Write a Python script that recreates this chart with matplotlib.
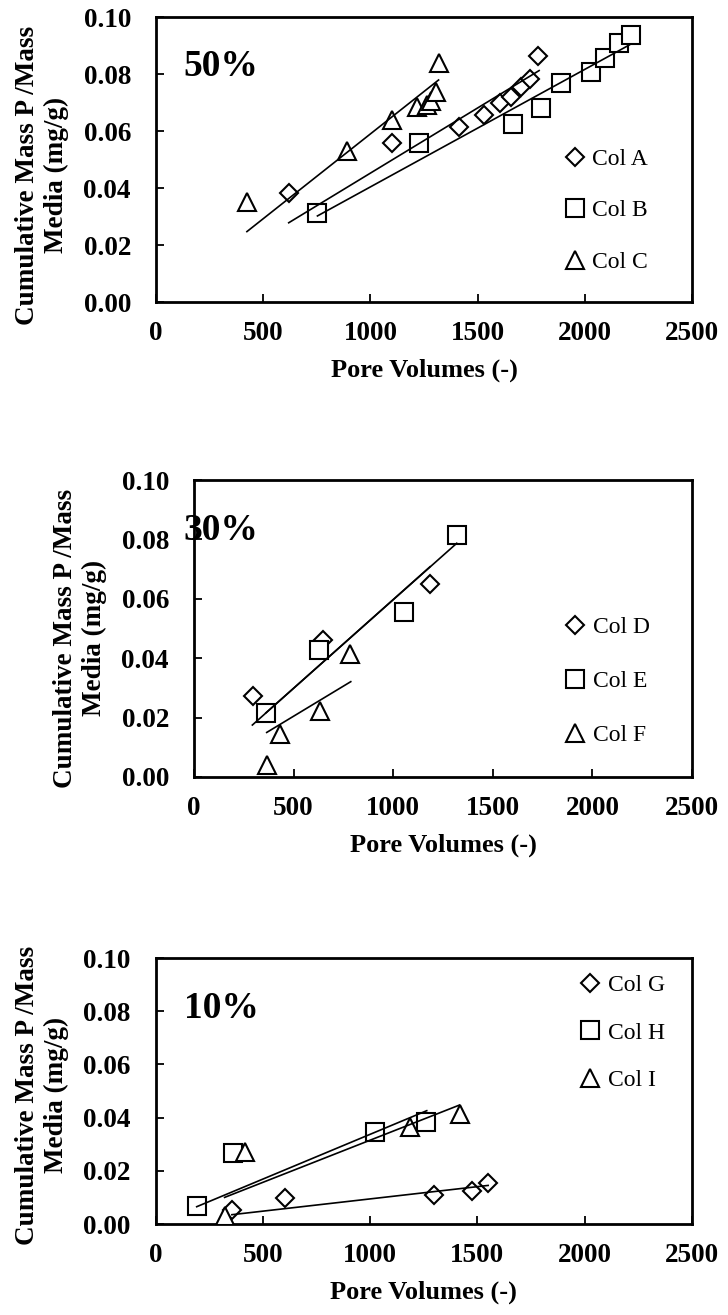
import numpy as np
import matplotlib.pyplot as plt
from matplotlib.ticker import FormatStrFormatter

plt.rcParams['font.family'] = ['Liberation Serif', 'DejaVu Serif']
plt.rcParams['font.weight'] = 'bold'

# ---- 50% columns ----
a_x = [619, 1100, 1414, 1529, 1603, 1658, 1701, 1744, 1782]
a_y = [0.0384, 0.0559, 0.0615, 0.0656, 0.0697, 0.0720, 0.0753, 0.0781, 0.0863]
b_x = [753, 1225, 1667, 1795, 1890, 2027, 2096, 2160, 2216]
b_y = [0.0313, 0.0557, 0.0625, 0.0680, 0.0767, 0.0808, 0.0855, 0.0908, 0.0937]
c_x = [424, 893, 1102, 1216, 1262, 1283, 1306, 1320]
c_y = [0.0350, 0.0531, 0.0640, 0.0685, 0.0690, 0.0705, 0.0738, 0.0837]
# trend lines (start, end)
a_fit_x = [619, 1787]
a_fit_y = [0.0278, 0.0812]
b_fit_x = [753, 2208]
b_fit_y = [0.0302, 0.0902]
c_fit_x = [424, 1318]
c_fit_y = [0.0247, 0.0779]

# ---- 30% columns ----
d_x = [296, 648, 1185]
d_y = [0.0272, 0.0461, 0.0649]
e_x = [361, 630, 1052, 1319]
e_y = [0.0216, 0.0429, 0.0556, 0.0815]
f_x = [365, 432, 635, 783]
f_y = [0.0042, 0.0146, 0.0222, 0.0413]
d_fit_x = [293, 1185]
d_fit_y = [0.0175, 0.0708]
e_fit_x = [361, 1319]
e_fit_y = [0.0216, 0.0787]
f_fit_x = [365, 787]
f_fit_y = [0.0150, 0.0321]

# ---- 10% columns ----
g_x = [355, 605, 1300, 1477, 1550]
g_y = [0.0051, 0.0098, 0.0110, 0.0123, 0.0154]
h_x = [192, 361, 1024, 1262]
h_y = [0.0066, 0.0266, 0.0345, 0.0383]
i_x = [322, 417, 1184, 1417]
i_y = [0.0031, 0.0272, 0.0366, 0.0413]
g_fit_x = [356, 1550]
g_fit_y = [0.0035, 0.0145]
h_fit_x = [192, 1264]
h_fit_y = [0.0065, 0.0426]
i_fit_x = [322, 1416]
i_fit_y = [0.0100, 0.0447]

x_ticks = [0, 500, 1000, 1500, 2000, 2500]
y_ticks = [0.00, 0.02, 0.04, 0.06, 0.08, 0.10]
ylab = 'Cumulative Mass P /Mass\nMedia (mg/g)'
xlab = 'Pore Volumes (-)'

W, H = 728, 1315
fig = plt.figure(figsize=(W / 100, H / 100), dpi=100)


def make_axes(left, right, top, bottom):
    return fig.add_axes([left / W, 1 - bottom / H, (right - left) / W, (bottom - top) / H])


def style(ax):
    ax.set_xlim(0, 2500)
    ax.set_ylim(0, 0.10)
    ax.set_xticks(x_ticks)
    ax.set_yticks(y_ticks)
    ax.yaxis.set_major_formatter(FormatStrFormatter('%.2f'))
    ax.tick_params(direction='in', length=5.5, width=1.3, labelsize=19.5)
    ax.tick_params(axis='x', pad=14)
    ax.tick_params(axis='y', pad=18)
    for s in ax.spines.values():
        s.set_linewidth(2)
    ax.set_xlabel(xlab, fontsize=19, fontweight='bold', labelpad=9)


def draw(ax, series, fits, names, tag, tag_x, tag_y, anchor, spacing):
    markers = ['D', 's', '^']
    sizes = [9.5, 12.5, 13.5]
    for (x, y), m, ms, nm in zip(series, markers, sizes, names):
        ax.plot(x, y, linestyle='none', marker=m, markersize=ms, markerfacecolor='white',
                markeredgecolor='black', markeredgewidth=1.5, label=nm, zorder=3)
    for fx, fy in fits:
        ax.plot(fx, fy, color='black', linewidth=1.2, zorder=4)
    ax.text(tag_x, tag_y, tag, fontsize=27, fontweight='bold', ha='left', va='baseline',
            clip_on=False, zorder=6)
    ax.legend(loc='upper left', bbox_to_anchor=anchor, frameon=False, numpoints=1,
              handlelength=1.0, handletextpad=0.25, borderpad=0, borderaxespad=0,
              labelspacing=spacing, prop={'weight': 'normal', 'size': 17})


ax1 = make_axes(156, 692, 17, 302)
style(ax1)
draw(ax1, [(a_x, a_y), (b_x, b_y), (c_x, c_y)],
     [(a_fit_x, a_fit_y), (b_fit_x, b_fit_y), (c_fit_x, c_fit_y)],
     ['Col A', 'Col B', 'Col C'], '50%', 126, 0.0793, (0.759, 0.539), 1.27)
fig.text(42 / W, 1 - 175 / H, ylab, rotation=90, ha='center', va='center',
         multialignment='center', fontsize=19.5, fontweight='bold')

ax2 = make_axes(194, 692, 480, 777)
style(ax2)
draw(ax2, [(d_x, d_y), (e_x, e_y), (f_x, f_y)],
     [(d_fit_x, d_fit_y), (e_fit_x, e_fit_y), (f_fit_x, f_fit_y)],
     ['Col D', 'Col E', 'Col F'], '30%', -55, 0.0798, (0.741, 0.54), 1.37)
fig.text(80 / W, 1 - 638 / H, ylab, rotation=90, ha='center', va='center',
         multialignment='center', fontsize=19.5, fontweight='bold')

ax3 = make_axes(155.5, 692, 958, 1224)
style(ax3)
draw(ax3, [(g_x, g_y), (h_x, h_y), (i_x, i_y)],
     [(g_fit_x, g_fit_y), (h_fit_x, h_fit_y), (i_fit_x, i_fit_y)],
     ['Col G', 'Col H', 'Col I'], '10%', 132, 0.0773, (0.7875, 0.937), 1.09)
fig.text(42 / W, 1 - 1095 / H, ylab, rotation=90, ha='center', va='center',
         multialignment='center', fontsize=19.5, fontweight='bold')

fig.savefig('out.png', dpi=100)
